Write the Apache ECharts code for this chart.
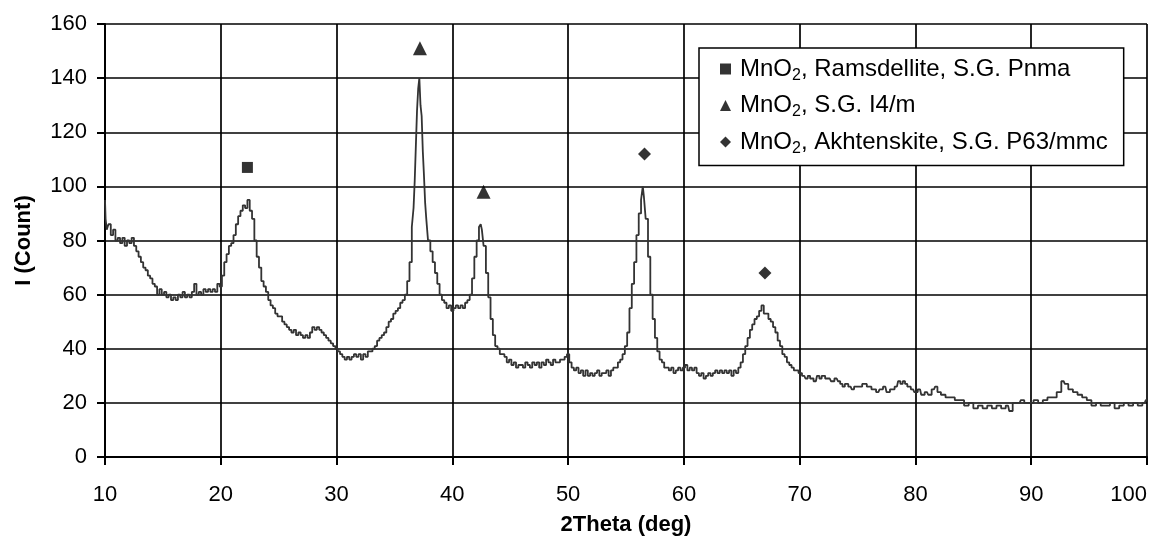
<!DOCTYPE html>
<html>
<head>
<meta charset="utf-8">
<script src="https://cdn.jsdelivr.net/npm/echarts@6/dist/echarts.min.js"></script>
<style>
  html, body { margin: 0; padding: 0; background: #fff; }
  #xrd { width: 1155px; height: 538px; }
</style>
</head>
<body>
<div id="xrd"></div>
<script>
var chart = echarts.init(document.getElementById('xrd'));

// measured pattern, [2theta, counts]
var pattern = [
  [10.0, 95], [10.1, 88], [10.2, 84], [10.4, 86], [10.6, 82], [10.8, 84], [11.0, 80], [11.2, 81],
  [11.4, 79], [11.6, 81], [11.8, 78], [12.0, 80], [12.2, 79], [12.4, 81], [12.6, 78], [12.8, 76],
  [13.0, 74], [13.2, 72], [13.4, 70], [13.6, 69], [13.8, 67], [14.0, 66], [14.2, 64], [14.4, 63],
  [14.6, 60], [14.8, 62], [15.0, 60], [15.2, 61], [15.4, 59], [15.6, 60], [15.8, 58], [16.0, 59],
  [16.2, 58], [16.4, 60], [16.6, 59], [16.8, 61], [17.0, 59], [17.2, 60], [17.4, 59], [17.6, 61],
  [17.8, 64], [18.0, 60], [18.2, 61], [18.4, 60], [18.6, 62], [18.8, 61], [19.0, 62], [19.2, 61],
  [19.4, 62], [19.6, 61], [19.8, 64], [20.0, 63], [20.2, 67], [20.4, 72], [20.6, 75], [20.8, 78],
  [21.0, 79], [21.2, 82], [21.4, 86], [21.6, 89], [21.8, 91], [22.0, 93], [22.2, 92], [22.4, 95],
  [22.6, 91], [22.8, 88], [23.0, 80], [23.2, 74], [23.4, 70], [23.6, 65], [23.8, 63], [24.0, 61],
  [24.2, 58], [24.4, 56], [24.6, 55], [24.8, 53], [25.0, 52], [25.2, 52], [25.4, 50], [25.6, 49],
  [25.8, 48], [26.0, 47], [26.2, 46], [26.4, 47], [26.6, 45], [26.8, 46], [27.0, 45], [27.2, 44],
  [27.4, 45], [27.6, 44], [27.8, 46], [28.0, 48], [28.2, 47], [28.4, 48], [28.6, 47], [28.8, 46],
  [29.0, 45], [29.2, 44], [29.4, 43], [29.6, 42], [29.8, 41], [30.0, 40], [30.2, 39], [30.4, 38],
  [30.6, 37], [30.8, 36], [31.0, 37], [31.2, 36], [31.4, 37], [31.6, 38], [31.8, 37], [32.0, 38],
  [32.2, 36], [32.4, 38], [32.6, 37], [32.8, 39], [33.0, 39], [33.2, 40], [33.4, 41], [33.6, 43],
  [33.8, 44], [34.0, 45], [34.2, 46], [34.4, 48], [34.6, 50], [34.8, 51], [35.0, 53], [35.2, 54],
  [35.4, 55], [35.6, 57], [35.8, 58], [36.0, 60], [36.2, 65], [36.4, 72], [36.6, 85], [36.7, 92],
  [36.8, 102], [36.9, 115], [37.0, 128], [37.1, 136], [37.2, 140], [37.3, 130], [37.4, 126], [37.5, 113],
  [37.6, 104], [37.7, 94], [37.8, 88], [38.0, 80], [38.2, 76], [38.4, 72], [38.6, 68], [38.8, 64],
  [39.0, 60], [39.2, 58], [39.4, 57], [39.6, 55], [39.8, 56], [40.0, 54], [40.2, 55], [40.4, 56],
  [40.6, 55], [40.8, 56], [41.0, 55], [41.2, 57], [41.4, 58], [41.6, 60], [41.8, 66], [42.0, 74],
  [42.2, 80], [42.4, 85], [42.5, 86], [42.6, 84], [42.8, 78], [43.0, 68], [43.2, 59], [43.4, 51],
  [43.6, 45], [43.8, 41], [44.0, 40], [44.2, 38], [44.4, 38], [44.6, 37], [44.8, 35], [45.0, 36],
  [45.2, 34], [45.4, 35], [45.6, 33], [45.8, 34], [46.0, 34], [46.2, 33], [46.4, 35], [46.6, 34],
  [46.8, 33], [47.0, 35], [47.2, 34], [47.4, 35], [47.6, 33], [47.8, 35], [48.0, 34], [48.2, 36],
  [48.4, 35], [48.6, 34], [48.8, 36], [49.0, 35], [49.2, 35], [49.4, 36], [49.6, 36], [49.8, 37],
  [50.0, 38], [50.2, 35], [50.4, 33], [50.6, 32], [50.8, 33], [51.0, 31], [51.2, 32], [51.4, 30],
  [51.6, 32], [51.8, 30], [52.0, 31], [52.2, 30], [52.4, 31], [52.6, 32], [52.8, 30], [53.0, 31],
  [53.2, 31], [53.4, 32], [53.6, 30], [53.8, 32], [54.0, 33], [54.2, 33], [54.4, 35], [54.6, 36],
  [54.8, 38], [55.0, 41], [55.2, 46], [55.4, 55], [55.6, 64], [55.8, 72], [56.0, 82], [56.2, 90],
  [56.4, 95], [56.5, 100], [56.6, 96], [56.8, 88], [57.0, 74], [57.2, 60], [57.4, 51], [57.6, 44],
  [57.8, 39], [58.0, 36], [58.2, 35], [58.4, 33], [58.6, 33], [58.8, 32], [59.0, 33], [59.2, 31],
  [59.4, 32], [59.6, 33], [59.8, 32], [60.0, 33], [60.2, 34], [60.4, 32], [60.6, 33], [60.8, 32],
  [61.0, 33], [61.2, 31], [61.4, 30], [61.6, 31], [61.8, 29], [62.0, 30], [62.2, 31], [62.4, 30],
  [62.6, 31], [62.8, 32], [63.0, 31], [63.2, 32], [63.4, 31], [63.6, 32], [63.8, 31], [64.0, 32],
  [64.2, 30], [64.4, 32], [64.6, 31], [64.8, 33], [65.0, 35], [65.2, 38], [65.4, 41], [65.6, 44],
  [65.8, 47], [66.0, 49], [66.2, 51], [66.4, 52], [66.6, 54], [66.8, 56], [67.0, 53], [67.2, 53],
  [67.4, 51], [67.6, 50], [67.8, 48], [68.0, 46], [68.2, 43], [68.4, 41], [68.6, 38], [68.8, 37],
  [69.0, 35], [69.2, 34], [69.4, 33], [69.6, 32], [69.8, 32], [70.0, 31], [70.4, 30], [70.6, 29],
  [70.8, 30], [71.0, 29], [71.4, 28], [71.6, 30], [71.8, 29], [72.0, 30], [72.4, 29], [72.6, 29],
  [72.8, 28], [73.2, 29], [73.4, 28], [73.6, 27], [73.8, 26], [74.0, 27], [74.4, 26], [74.6, 25],
  [74.8, 26], [75.2, 26], [75.6, 27], [76.0, 26], [76.4, 25], [76.8, 24], [77.0, 25], [77.4, 26],
  [77.6, 24], [78.0, 25], [78.4, 26], [78.6, 28], [78.8, 27], [79.0, 28], [79.2, 27], [79.4, 26],
  [79.8, 25], [80.0, 24], [80.4, 25], [80.6, 23], [81.0, 24], [81.2, 23], [81.6, 25], [81.8, 26],
  [82.0, 24], [82.4, 23], [82.8, 22], [83.2, 22], [83.6, 21], [84.0, 21], [84.4, 19], [84.8, 20],
  [85.2, 18], [85.6, 19], [86.0, 18], [86.4, 19], [86.8, 18], [87.2, 19], [87.6, 18], [88.0, 19],
  [88.2, 17], [88.6, 20], [89.0, 20], [89.2, 21], [89.6, 20], [90.0, 20], [90.4, 21], [90.8, 20],
  [91.2, 21], [91.6, 22], [92.0, 22], [92.4, 24], [92.8, 28], [93.0, 27], [93.4, 25], [93.8, 24],
  [94.2, 23], [94.6, 22], [95.0, 21], [95.4, 19], [95.8, 20], [96.2, 19], [96.6, 19], [97.0, 20],
  [97.4, 18], [97.8, 19], [98.2, 20], [98.6, 19], [99.0, 20], [99.4, 19], [99.8, 20], [100.0, 21]
];

// phase markers above the peaks
var phaseNames = [
  'MnO2, Ramsdellite, S.G. Pnma',
  'MnO2, S.G. I4/m',
  'MnO2, Akhtenskite, S.G. P63/mmc'
];
var ramsdellite = [[22.3, 107]];
var tetragonal = [[37.2, 151], [42.7, 98]];
var akhtenskite = [[56.6, 112], [67.0, 68]];

var fontName = 'Liberation Sans, Arial, sans-serif';

var option = {
  animation: false,
  backgroundColor: '#fff',
  grid: { left: 105, right: 8, top: 24, bottom: 81, containLabel: false, outerBoundsMode: 'none' },
  legend: {
    data: phaseNames,
    orient: 'vertical',
    left: 699,
    top: 48,
    padding: [9, 16, 9, 21],
    itemGap: 10,
    itemWidth: 11,
    itemHeight: 11,
    backgroundColor: '#fff',
    borderColor: '#000',
    borderWidth: 1.5,
    borderRadius: 0,
    formatter: function (name) {
      return name.replace('MnO2', 'MnO{sub|2}');
    },
    textStyle: {
      color: '#000',
      fontSize: 24,
      fontFamily: fontName,
      padding: [0, 0, 0, 4],
      rich: {
        sub: { fontSize: 16, fontFamily: fontName, color: '#000', padding: [13, 0, 0, 0] }
      }
    }
  },
  xAxis: {
    type: 'value',
    min: 10, max: 100, interval: 10,
    name: '2Theta (deg)',
    nameLocation: 'middle',
    nameGap: 57,
    nameTextStyle: { fontSize: 22, fontWeight: 'bold', color: '#000', fontFamily: fontName },
    axisLine: { show: true, onZero: false, lineStyle: { color: '#000', width: 2 } },
    axisTick: { show: true, length: 8, lineStyle: { color: '#000', width: 2 } },
    axisLabel: { fontSize: 22, color: '#000', margin: 27, fontFamily: fontName, alignMaxLabel: 'right' },
    splitLine: { show: true, lineStyle: { color: '#000', width: 1.7 } }
  },
  yAxis: {
    type: 'value',
    min: 0, max: 160, interval: 20,
    name: 'I (Count)',
    nameLocation: 'middle',
    nameGap: 70,
    nameTextStyle: { fontSize: 22, fontWeight: 'bold', color: '#000', fontFamily: fontName },
    axisLine: { show: true, lineStyle: { color: '#000', width: 2 } },
    axisTick: { show: true, length: 8, lineStyle: { color: '#000', width: 2 } },
    axisLabel: { fontSize: 22, color: '#000', margin: 18, fontFamily: fontName },
    splitLine: { show: true, lineStyle: { color: '#000', width: 1.7 } }
  },
  series: [
    {
      name: 'pattern',
      type: 'line',
      data: pattern,
      step: 'middle',
      symbol: 'none',
      lineStyle: { color: '#333', width: 1.8 },
      z: 3
    },
    {
      name: phaseNames[0],
      type: 'scatter',
      data: ramsdellite,
      symbol: 'rect',
      symbolSize: 11,
      itemStyle: { color: '#000' },
      z: 4
    },
    {
      name: phaseNames[1],
      type: 'scatter',
      data: tetragonal,
      symbol: 'triangle',
      symbolSize: 14,
      itemStyle: { color: '#000' },
      z: 4
    },
    {
      name: phaseNames[2],
      type: 'scatter',
      data: akhtenskite,
      symbol: 'diamond',
      symbolSize: 13,
      itemStyle: { color: '#000' },
      z: 4
    }
  ]
};
chart.setOption(option);
</script>
</body>
</html>
